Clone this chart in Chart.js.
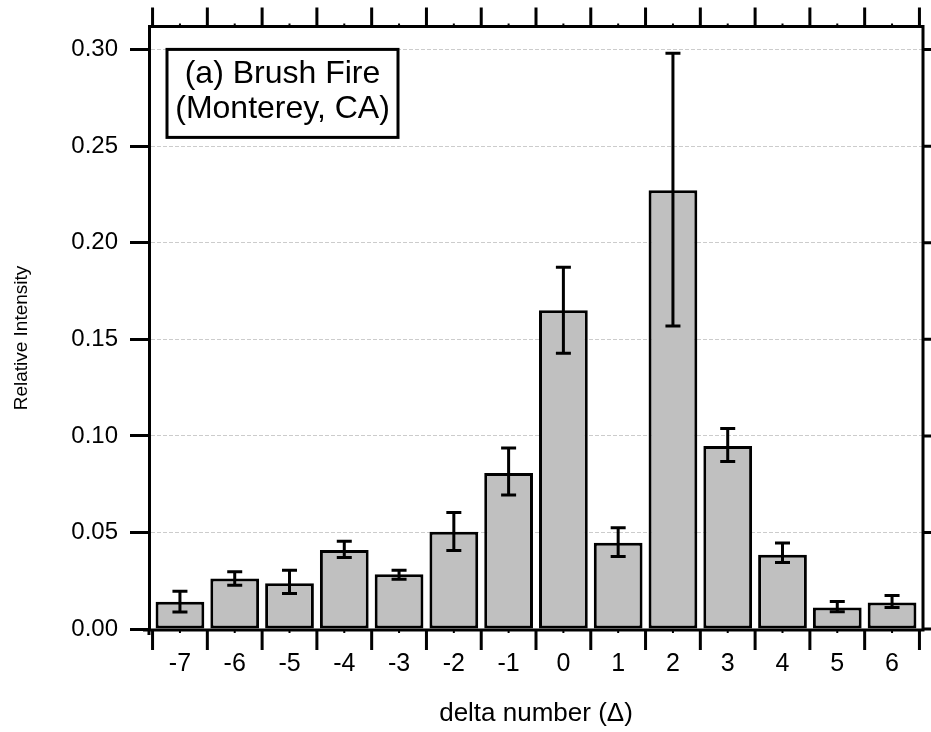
<!DOCTYPE html>
<html>
<head>
<meta charset="utf-8">
<script src="https://cdn.jsdelivr.net/npm/chart.js@4"></script>
<style>
  body { margin: 0; background: #fff; }
  canvas { display: block; }
</style>
</head>
<body>
<canvas id="deltaChart" width="931" height="732"></canvas>
<script>
// delta number categories
const deltas = [-7, -6, -5, -4, -3, -2, -1, 0, 1, 2, 3, 4, 5, 6];
// relative intensity (bar heights)
const intensity = [0.0141, 0.0261, 0.0237, 0.0409, 0.0284, 0.0504, 0.0808, 0.1650, 0.0447, 0.2272, 0.0947, 0.0385, 0.0112, 0.0138];
// error bar ends
const errHigh = [0.0196, 0.0297, 0.0304, 0.0454, 0.0304, 0.0603, 0.0937, 0.1873, 0.0524, 0.2981, 0.1038, 0.0445, 0.0143, 0.0174];
const errLow = [0.0088, 0.0227, 0.0184, 0.0370, 0.0258, 0.0407, 0.0694, 0.1428, 0.0376, 0.1569, 0.0868, 0.0344, 0.0089, 0.0112];
// y axis ticks
const yTicks = [0, 0.05, 0.10, 0.15, 0.20, 0.25, 0.30];

const FONT = "'Liberation Sans', Arial, sans-serif";
Chart.defaults.font.family = FONT;
Chart.defaults.color = '#000';

// Frame, mirrored ticks, error bars, label box
const framePlugin = {
    id: 'frame',
    afterDatasetsDraw(chart) {
        const { ctx, chartArea: a, scales: { x, y } } = chart;
        ctx.save();
        ctx.strokeStyle = '#000';
        ctx.lineWidth = 3;

        // error bars
        deltas.forEach((d, i) => {
            const px = x.getPixelForValue(d);
            const yh = y.getPixelForValue(errHigh[i]);
            const yl = y.getPixelForValue(errLow[i]);
            ctx.beginPath();
            ctx.moveTo(px, yh); ctx.lineTo(px, yl);
            ctx.moveTo(px - 7.5, yh); ctx.lineTo(px + 7.5, yh);
            ctx.moveTo(px - 7.5, yl); ctx.lineTo(px + 7.5, yl);
            ctx.stroke();
        });

        // axis frame
        ctx.beginPath();
        ctx.moveTo(a.left - 6, a.bottom); ctx.lineTo(a.right + 1.5, a.bottom);
        ctx.moveTo(a.left, a.top); ctx.lineTo(a.right + 1.5, a.top);
        ctx.moveTo(a.right, a.top); ctx.lineTo(a.right, a.bottom);
        ctx.moveTo(a.left, a.bottom); ctx.lineTo(a.left, a.bottom + 5);
        ctx.stroke();

        // category boundary ticks (top and bottom)
        ctx.beginPath();
        const bounds = deltas.map(d => d - 0.5).concat([deltas[deltas.length - 1] + 0.5]);
        bounds.forEach(b => {
            const px = x.getPixelForValue(b);
            ctx.moveTo(px, a.top); ctx.lineTo(px, a.top - 19);
            ctx.moveTo(px, a.bottom); ctx.lineTo(px, a.bottom + 20);
        });
        // right side ticks
        yTicks.forEach(v => {
            const py = y.getPixelForValue(v);
            ctx.moveTo(a.right, py); ctx.lineTo(a.right + 10, py);
        });
        ctx.stroke();

        // tiny minor ticks at category centres
        ctx.lineWidth = 2;
        ctx.beginPath();
        deltas.forEach(d => {
            const px = x.getPixelForValue(d);
            ctx.moveTo(px, a.top); ctx.lineTo(px, a.top - 3);
            ctx.moveTo(px, a.bottom); ctx.lineTo(px, a.bottom + 3);
        });
        ctx.stroke();
        ctx.restore();
    },
    afterDraw(chart) {
        const { ctx, chartArea: a } = chart;
        ctx.save();

        // annotation box
        const bx = a.left + 18, by = a.top + 23, bw = 231, bh = 88;
        ctx.fillStyle = '#fff';
        ctx.fillRect(bx, by, bw, bh);
        ctx.strokeStyle = '#000';
        ctx.lineWidth = 3;
        ctx.strokeRect(bx, by, bw, bh);
        ctx.fillStyle = '#000';
        ctx.font = '32px ' + FONT;
        ctx.textAlign = 'center';
        ctx.textBaseline = 'alphabetic';
        ctx.fillText('(a) Brush Fire', bx + bw / 2, 83);
        ctx.fillText('(Monterey, CA)', bx + bw / 2, 118);

        // y axis title
        ctx.translate(22, 338);
        ctx.rotate(-Math.PI / 2);
        ctx.font = '19px ' + FONT;
        ctx.textBaseline = 'middle';
        ctx.fillText('Relative Intensity', 0, 0);
        ctx.restore();
    }
};

const ctx = document.getElementById('deltaChart').getContext('2d');
new Chart(ctx, {
    type: 'bar',
    data: {
        datasets: [{
            label: 'Relative Intensity',
            data: deltas.map((d, i) => ({ x: d, y: intensity[i] })),
            backgroundColor: '#c0c0c0',
            borderColor: '#000',
            borderWidth: 3,
            borderSkipped: false,
            barPercentage: 0.89,
            categoryPercentage: 1
        }]
    },
    options: {
        responsive: false,
        animation: false,
        layout: { padding: { top: 24, right: 8, left: 0, bottom: 0 } },
        plugins: {
            legend: { display: false },
            tooltip: { enabled: false }
        },
        scales: {
            x: {
                type: 'linear',
                offset: false,
                min: -7.565,
                max: 6.565,
                afterBuildTicks: s => { s.ticks = deltas.map(v => ({ value: v })); },
                afterFit: s => { s.height = 102; },
                grid: { display: false, drawTicks: false, offset: false },
                border: { display: false },
                ticks: {
                    autoSkip: false,
                    maxRotation: 0,
                    padding: 19,
                    font: { size: 25 },
                    callback: v => String(v)
                },
                title: {
                    display: true,
                    text: 'delta number (\u0394)',
                    font: { size: 26 },
                    padding: { top: 0, bottom: 3 }
                }
            },
            y: {
                min: -0.0005,
                max: 0.312,
                afterBuildTicks: s => { s.ticks = yTicks.map(v => ({ value: v })); },
                afterFit: s => { s.width = 149; },
                grid: {
                    color: '#cccccc',
                    lineWidth: 1,
                    drawTicks: true,
                    tickLength: 19,
                    tickColor: '#000',
                    tickWidth: 3
                },
                border: { display: true, color: '#000', width: 3, dash: [4, 2] },
                ticks: {
                    padding: 12,
                    font: { size: 24 },
                    callback: v => v.toFixed(2)
                }
            }
        }
    },
    plugins: [framePlugin]
});
</script>
</body>
</html>
